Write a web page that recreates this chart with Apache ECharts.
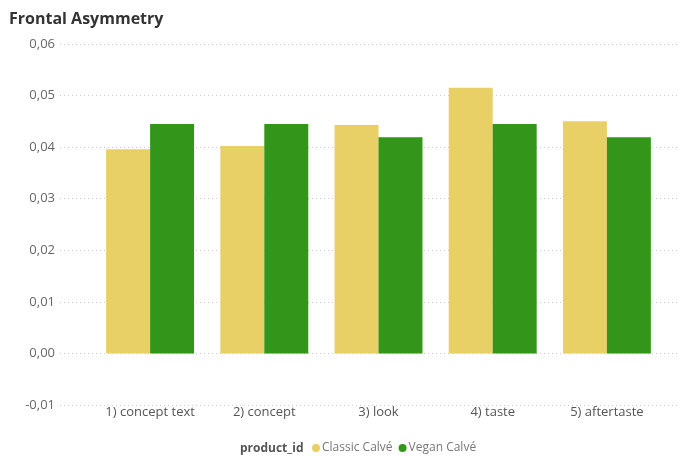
<!DOCTYPE html>
<html>
<head>
    <meta charset="utf-8">
    <script src="https://cdn.jsdelivr.net/npm/echarts@6/dist/echarts.min.js"></script>
    <style>
        * { margin: 0; padding: 0; }
        body { background: #fff; }
        #chart { width: 684px; height: 457px; }
    </style>
</head>
<body>
    <div id="chart"></div>
    <script>
        // 数据
        const categories = ['1) concept text', '2) concept', '3) look', '4) taste', '5) aftertaste'];
        const classicCalve = [0.0396, 0.0402, 0.0443, 0.0515, 0.0450];
        const veganCalve = [0.0445, 0.0445, 0.0419, 0.0445, 0.0419];
        const seriesNames = ['Classic Calvé', 'Vegan Calvé'];

        const font = '"Open Sans", "Noto Sans", sans-serif';
        const yMin = -0.01, yMax = 0.06, yStep = 0.01;

        const chart = echarts.init(document.getElementById('chart'));
        chart.setOption({
            animation: false,
            title: {
                text: 'Frontal Asymmetry',
                left: 4,
                top: 6,
                textStyle: { fontFamily: font, fontSize: 16, fontWeight: 'bold', color: '#333' }
            },
            legend: {
                data: seriesNames,
                left: 312,
                bottom: 3,
                padding: 0,
                icon: 'circle',
                itemWidth: 8,
                itemHeight: 8,
                itemGap: 6,
                textStyle: { fontFamily: font, fontSize: 12, color: '#777', padding: [0, 0, 0, -3] }
            },
            graphic: [{
                type: 'text',
                left: 240,
                bottom: 2,
                style: { text: 'product_id', font: 'bold 12px ' + font, fill: '#555' }
            }],
            grid: [
                { left: 60, right: 4, top: 44, bottom: 52 },
                { left: 93, right: 20, top: 44, bottom: 52 }
            ],
            xAxis: [
                { type: 'category', gridIndex: 0, data: categories, show: false },
                {
                    type: 'category', gridIndex: 1, data: categories,
                    axisLine: { show: false }, axisTick: { show: false },
                    axisLabel: { margin: 1, fontFamily: font, fontSize: 13, color: '#555', interval: 0 }
                }
            ],
            yAxis: [
                {
                    type: 'value', gridIndex: 0, min: yMin, max: yMax, interval: yStep,
                    axisLine: { show: false }, axisTick: { show: false },
                    axisLabel: {
                        margin: 5, fontFamily: font, fontSize: 13, color: '#666',
                        formatter: v => v.toFixed(2).replace('.', ',')
                    },
                    splitLine: { lineStyle: { type: [1, 3], color: '#ccc', width: 1 } }
                },
                {
                    type: 'value', gridIndex: 1, min: yMin, max: yMax, interval: yStep,
                    show: false, splitLine: { show: false }
                }
            ],
            series: [
                {
                    name: seriesNames[0], type: 'bar', xAxisIndex: 1, yAxisIndex: 1,
                    data: classicCalve, barCategoryGap: '23%', barGap: '0%',
                    itemStyle: { color: '#E8CF66' }
                },
                {
                    name: seriesNames[1], type: 'bar', xAxisIndex: 1, yAxisIndex: 1,
                    data: veganCalve, barCategoryGap: '23%', barGap: '0%',
                    itemStyle: { color: '#33951A' }
                }
            ]
        });
    </script>
</body>
</html>
